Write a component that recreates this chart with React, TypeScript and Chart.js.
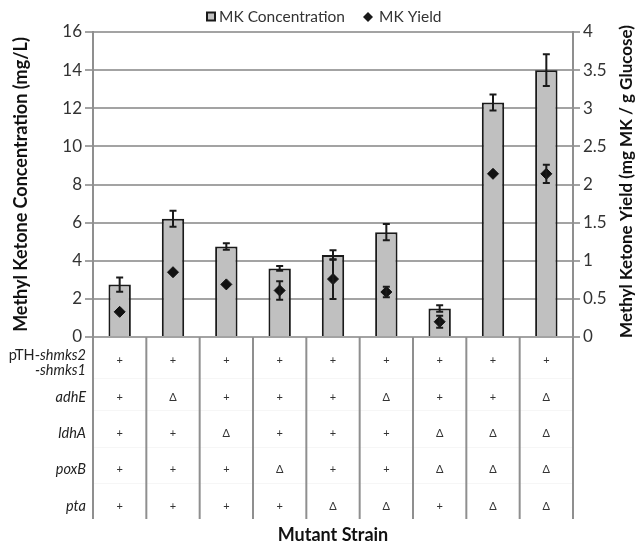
import React, { useEffect, useRef } from "react";
import { Chart, registerables } from "chart.js";
Chart.register(...registerables);

const categories = ["S1", "S2", "S3", "S4", "S5", "S6", "S7", "S8", "S9"];
const concentration = [2.75, 6.2, 4.75, 3.6, 4.3, 5.5, 1.5, 12.3, 14.0];
const concentrationErr = [0.37, 0.42, 0.17, 0.13, 0.25, 0.43, 0.17, 0.42, 0.83];
const yieldValues = [0.33, 0.85, 0.69, 0.61, 0.76, 0.59, 0.2, 2.14, 2.14];
const yieldErr = [0, 0, 0, 0.12, 0.26, 0.07, 0.08, 0, 0.12];

const rowPTH = ["+", "+", "+", "+", "+", "+", "+", "+", "+"];
const rowAdhE = ["+", "Δ", "+", "+", "+", "Δ", "+", "+", "Δ"];
const rowLdhA = ["+", "+", "Δ", "+", "+", "+", "Δ", "Δ", "Δ"];
const rowPoxB = ["+", "+", "+", "Δ", "+", "+", "Δ", "Δ", "Δ"];
const rowPta = ["+", "+", "+", "+", "Δ", "Δ", "+", "Δ", "Δ"];
const geneLabels = ["adhE", "ldhA", "poxB", "pta"];

const leftTitle = "Methyl Ketone Concentration (mg/L)";
const rightTitle = "Methyl Ketone Yield (mg MK / g Glucose)";
const xTitle = "Mutant Strain";
const legendLabels = ["MK Concentration", "MK Yield"];

const FONT = "Lato, 'Open Sans', sans-serif";
const BAR_FILL = "#c0c0c0";
const INK = "#1a1a1a";
const GRID = "#a3a3a3";

const decorPlugin = {
  id: "decor",
  afterDatasetsDraw(chart: any) {
    const ctx = chart.ctx as CanvasRenderingContext2D;
    const y = chart.scales.y;
    const y1 = chart.scales.y1;
    const barMeta = chart.getDatasetMeta(0);
    const ptMeta = chart.getDatasetMeta(1);
    ctx.save();
    const drawErr = (x: number, top: number, bot: number) => {
      ctx.strokeStyle = INK;
      ctx.lineWidth = 2;
      ctx.beginPath();
      ctx.moveTo(x, top);
      ctx.lineTo(x, bot);
      ctx.moveTo(x - 3.5, top);
      ctx.lineTo(x + 3.5, top);
      ctx.moveTo(x - 3.5, bot);
      ctx.lineTo(x + 3.5, bot);
      ctx.stroke();
    };
    concentration.forEach((v, i) => {
      const e = concentrationErr[i];
      if (!e) return;
      const x = barMeta.data[i].x;
      drawErr(x, y.getPixelForValue(v + e), y.getPixelForValue(v - e));
    });
    yieldValues.forEach((v, i) => {
      const e = yieldErr[i];
      if (!e) return;
      const x = ptMeta.data[i].x;
      drawErr(x, y1.getPixelForValue(v + e), y1.getPixelForValue(v - e));
    });
    ctx.restore();
  },
  afterDraw(chart: any) {
    const ctx = chart.ctx as CanvasRenderingContext2D;
    const ca = chart.chartArea;
    const n = categories.length;
    const colW = (ca.right - ca.left) / n;
    const tableBottom = 519;
    ctx.save();
    ctx.strokeStyle = "rgba(0,0,0,0.035)";
    ctx.lineWidth = 1;
    [378, 410, 447, 483].forEach((yy) => {
      ctx.beginPath();
      ctx.moveTo(ca.left, yy + 0.5);
      ctx.lineTo(ca.right, yy + 0.5);
      ctx.stroke();
    });
    ctx.strokeStyle = "#8f8f8f";
    ctx.lineWidth = 2;
    for (let i = 0; i <= n; i++) {
      const x = ca.left + i * colW;
      ctx.beginPath();
      ctx.moveTo(x, ca.bottom);
      ctx.lineTo(x, tableBottom);
      ctx.stroke();
    }
    const rows = [rowPTH, rowAdhE, rowLdhA, rowPoxB, rowPta];
    const rowY = [360, 397, 433, 469, 506];
    ctx.fillStyle = "#333";
    ctx.font = `11px ${FONT}`;
    ctx.textAlign = "center";
    ctx.textBaseline = "middle";
    const xs = chart.getDatasetMeta(0).data.map((d: any) => d.x);
    rows.forEach((r, ri) => {
      r.forEach((s, ci) => {
        ctx.fillText(s, xs[ci], rowY[ri]);
      });
    });
    const labelRight = 86;
    ctx.fillStyle = "#222";
    ctx.textAlign = "right";
    ctx.font = `italic 14.5px ${FONT}`;
    geneLabels.forEach((g, i) => ctx.fillText(g, labelRight, rowY[i + 1]));
    const it = "shmks2";
    const itW = ctx.measureText(it).width;
    ctx.fillText(it, labelRight, 355);
    ctx.font = `14.5px ${FONT}`;
    ctx.fillText("pTH-", labelRight - itW, 355);
    ctx.font = `italic 14.5px ${FONT}`;
    ctx.fillText("-shmks1", labelRight, 370);
    ctx.fillStyle = "#111";
    ctx.font = `bold 18px ${FONT}`;
    ctx.textAlign = "center";
    ctx.fillText(xTitle, (ca.left + ca.right) / 2, 535);
    ctx.save();
    ctx.translate(21, (ca.top + ca.bottom) / 2);
    ctx.rotate(-Math.PI / 2);
    ctx.fillText(leftTitle, 0, 0);
    ctx.restore();
    ctx.save();
    ctx.translate(627, (ca.top + ca.bottom) / 2 - 3);
    ctx.rotate(-Math.PI / 2);
    ctx.font = `bold 17px ${FONT}`;
    ctx.fillText(rightTitle, 0, 0);
    ctx.restore();
    const ly = 17;
    ctx.fillStyle = BAR_FILL;
    ctx.fillRect(207, ly - 4.5, 8, 8);
    ctx.strokeStyle = INK;
    ctx.lineWidth = 2;
    ctx.strokeRect(207, ly - 4.5, 8, 8);
    ctx.fillStyle = "#333";
    ctx.font = `15.5px ${FONT}`;
    ctx.textAlign = "left";
    ctx.fillText(legendLabels[0], 219, ly);
    ctx.fillStyle = INK;
    ctx.beginPath();
    ctx.moveTo(368, ly - 5);
    ctx.lineTo(373, ly);
    ctx.lineTo(368, ly + 5);
    ctx.lineTo(363, ly);
    ctx.closePath();
    ctx.fill();
    ctx.fillStyle = "#333";
    ctx.fillText(legendLabels[1], 379, ly);
    ctx.restore();
  },
};

export default function App() {
  const ref = useRef<HTMLCanvasElement | null>(null);
  useEffect(() => {
    document.body.style.margin = "0";
    const canvas = ref.current!;
    const chart = new Chart(canvas, {
      type: "bar",
      data: {
        labels: categories,
        datasets: [
          {
            type: "bar",
            label: legendLabels[0],
            data: concentration,
            backgroundColor: BAR_FILL,
            borderColor: INK,
            borderWidth: 2,
            barPercentage: 0.42,
            categoryPercentage: 1,
            yAxisID: "y",
            order: 2,
          } as any,
          {
            type: "line",
            label: legendLabels[1],
            data: yieldValues,
            showLine: false,
            pointStyle: "rectRot",
            pointRadius: 5.5,
            backgroundColor: "#111",
            borderColor: "#111",
            borderWidth: 1,
            yAxisID: "y1",
            order: 1,
          } as any,
        ],
      },
      options: {
        responsive: false,
        animation: false,
        layout: { padding: { top: 32, bottom: 543 - 337, left: 0, right: 0 } },
        plugins: { legend: { display: false }, tooltip: { enabled: false } },
        scales: {
          x: { type: "category", display: false, offset: true },
          y: {
            position: "left",
            min: 0,
            max: 16,
            ticks: {
              stepSize: 2,
              color: "#333",
              font: { family: FONT, size: 17 },
              padding: 3,
            },
            grid: { color: GRID, lineWidth: 2, tickLength: 8, tickColor: GRID },
            border: { display: true, color: "#8f8f8f", width: 2 },
            afterFit: (s: any) => {
              s.width = 93;
            },
          },
          y1: {
            position: "right",
            min: 0,
            max: 4,
            ticks: {
              stepSize: 0.5,
              color: "#333",
              font: { family: FONT, size: 17 },
              padding: 3,
              callback: (v: any) => String(Number(v)),
            },
            grid: { drawOnChartArea: false, color: GRID, lineWidth: 2, tickLength: 7, tickColor: GRID },
            border: { display: true, color: "#8f8f8f", width: 2 },
            afterFit: (s: any) => {
              s.width = 70;
            },
          },
        },
      } as any,
      plugins: [decorPlugin],
    });
    return () => chart.destroy();
  }, []);
  return (
    <div style={{ position: "absolute", left: 0, top: 0, width: 643, height: 543, background: "#fff" }}>
      <canvas ref={ref} width={643} height={543} style={{ display: "block" }} />
    </div>
  );
}
